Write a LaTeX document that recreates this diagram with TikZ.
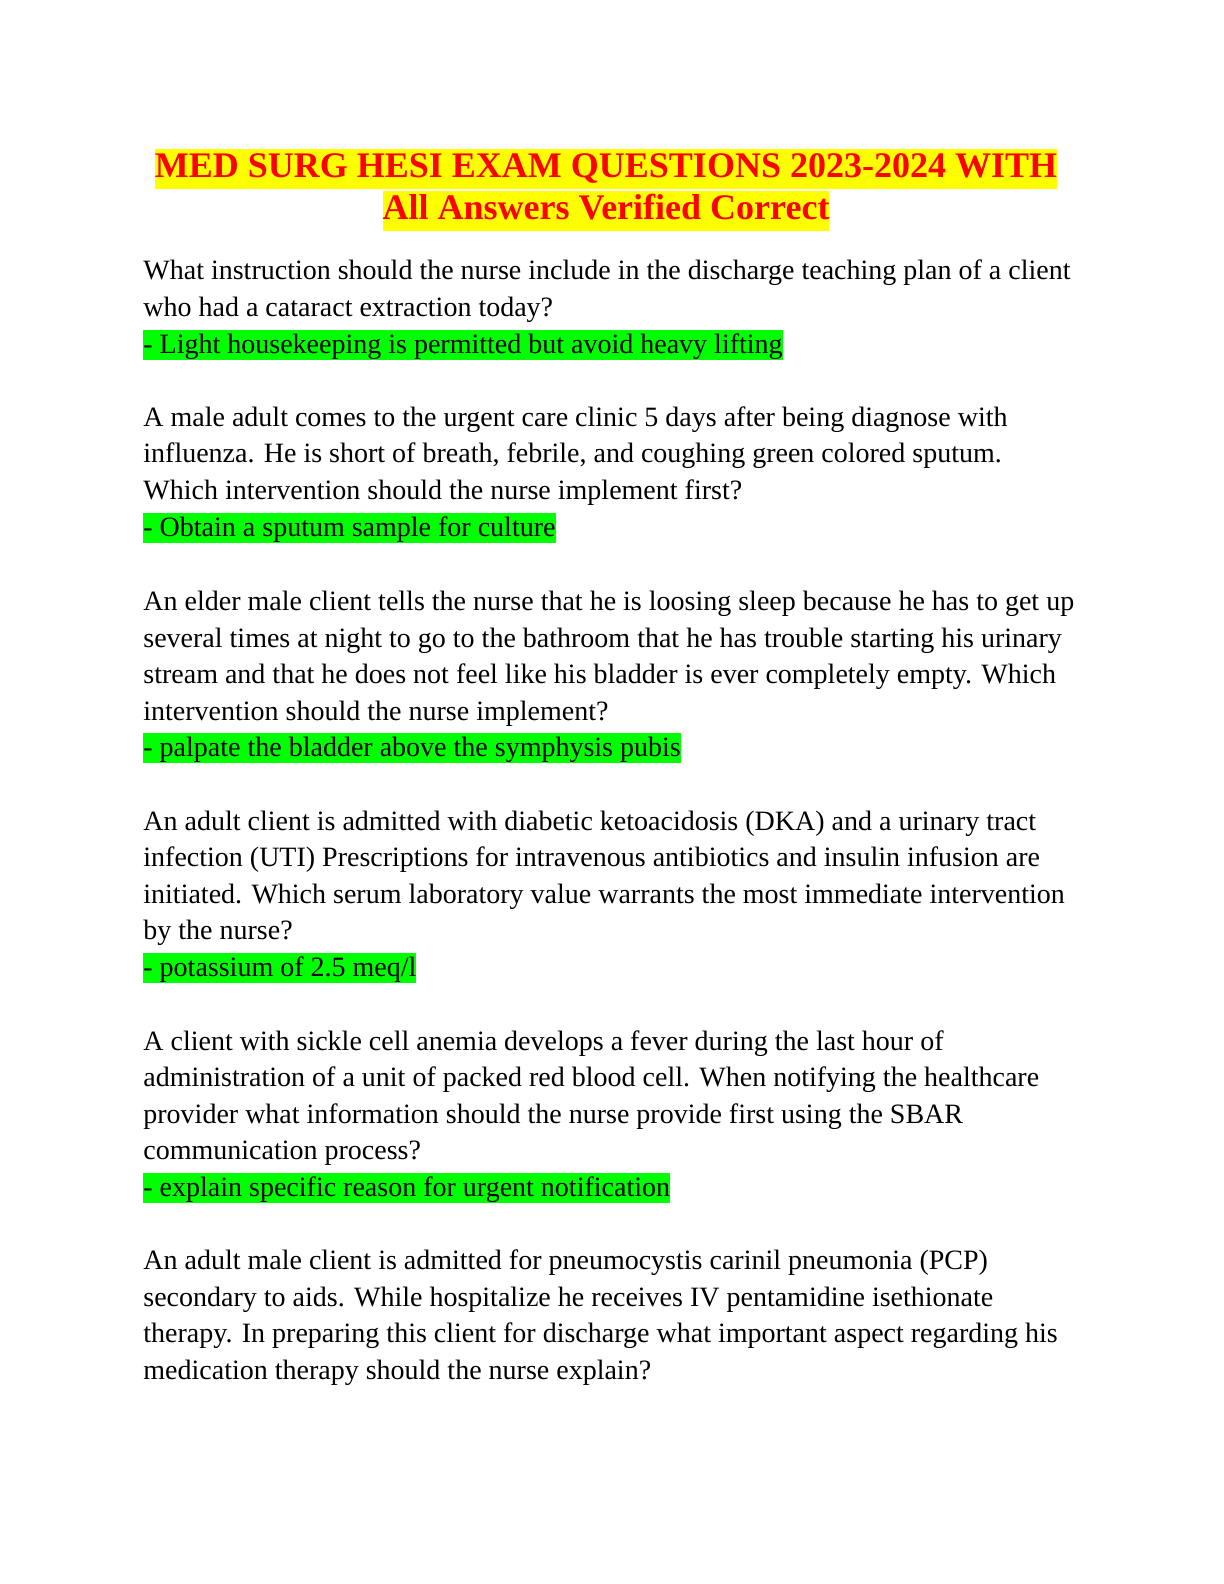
\documentclass[tikz,border=0pt]{standalone}
\usepackage{fontspec}
\setmainfont{Liberation Serif}
\definecolor{hlg}{RGB}{0,255,0}
\definecolor{hly}{RGB}{255,255,0}
\definecolor{tred}{RGB}{255,0,0}
\begin{document}
\begin{tikzpicture}[x=1pt,y=-1pt,
 txt/.style={anchor=base west,inner sep=0pt,font=\fontsize{14}{16}\selectfont},
 ans/.style={txt,fill=hlg,text height=11.5pt,text depth=3.5pt},
 ttl/.style={anchor=base,inner sep=0pt,fill=hly,text=tred,font=\fontsize{18}{21}\bfseries\selectfont,text height=14pt,text depth=6pt}]
\useasboundingbox (0,0) rectangle (612,792);
\begin{scope}[yshift=-1.5pt]
\node[ttl] (t1) at (303,87) {MED SURG HESI EXAM QUESTIONS 2023-2024 WITH};
\node[ttl] (t2) at (303,108) {All Answers Verified Correct};
\def\L{71.5}
\node[txt] (a1) at (\L,138) {What instruction should the nurse include in the discharge teaching plan of a client};
\node[txt] (a2) at (\L,156.5) {who had a cataract extraction today?};
\node[ans] (a3) at (\L,175) {- Light housekeeping is permitted but avoid heavy lifting};
\node[txt] (b1) at (\L,211.5) {A male adult comes to the urgent care clinic 5 days after being diagnose with};
\node[txt] (b2) at (\L,229.5) {influenza. He is short of breath, febrile, and coughing green colored sputum.};
\node[txt] (b3) at (\L,248) {Which intervention should the nurse implement first?};
\node[ans] (b4) at (\L,266.5) {- Obtain a sputum sample for culture};
\node[txt] (c1) at (\L,303.5) {An elder male client tells the nurse that he is loosing sleep because he has to get up};
\node[txt] (c2) at (\L,322) {several times at night to go to the bathroom that he has trouble starting his urinary};
\node[txt] (c3) at (\L,340) {stream and that he does not feel like his bladder is ever completely empty. Which};
\node[txt] (c4) at (\L,358.5) {intervention should the nurse implement?};
\node[ans] (c5) at (\L,376.5) {- palpate the bladder above the symphysis pubis};
\node[txt] (d1) at (\L,413.5) {An adult client is admitted with diabetic ketoacidosis (DKA) and a urinary tract};
\node[txt] (d2) at (\L,431.5) {infection (UTI) Prescriptions for intravenous antibiotics and insulin infusion are};
\node[txt] (d3) at (\L,450) {initiated. Which serum laboratory value warrants the most immediate intervention};
\node[txt] (d4) at (\L,468) {by the nurse?};
\node[ans] (d5) at (\L,486.5) {- potassium of 2.5 meq/l};
\node[txt] (e1) at (\L,523.5) {A client with sickle cell anemia develops a fever during the last hour of};
\node[txt] (e2) at (\L,541.5) {administration of a unit of packed red blood cell. When notifying the healthcare};
\node[txt] (e3) at (\L,560) {provider what information should the nurse provide first using the SBAR};
\node[txt] (e4) at (\L,578) {communication process?};
\node[ans] (e5) at (\L,596.5) {- explain specific reason for urgent notification};
\node[txt] (f1) at (\L,633) {An adult male client is admitted for pneumocystis carinil pneumonia (PCP)};
\node[txt] (f2) at (\L,651.5) {secondary to aids. While hospitalize he receives IV pentamidine isethionate};
\node[txt] (f3) at (\L,669.5) {therapy. In preparing this client for discharge what important aspect regarding his};
\node[txt] (f4) at (\L,688) {medication therapy should the nurse explain?};
\end{scope}
\end{tikzpicture}
\end{document}
